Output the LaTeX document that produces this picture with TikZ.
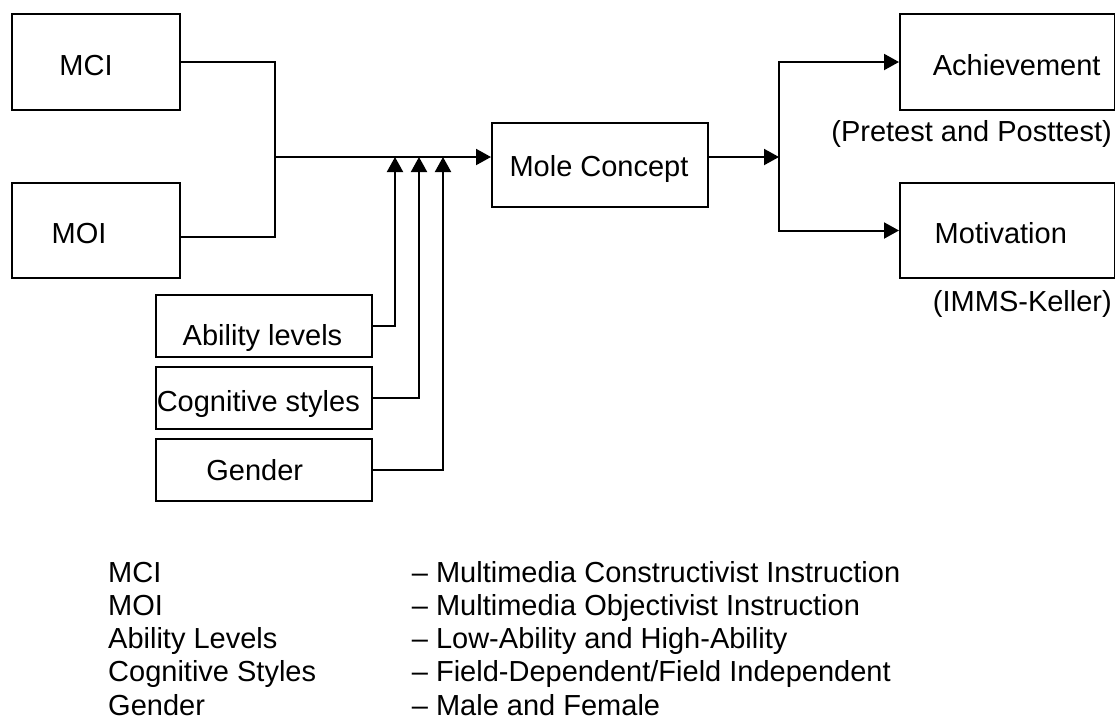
\documentclass[tikz,border=0pt]{standalone}
\usepackage{fontspec}
\setmainfont{Liberation Sans}
\usetikzlibrary{arrows.meta,calc}
\tikzset{
  box/.style={draw, line width=2pt, inner sep=0pt, anchor=north west},
  lbl/.style={inner sep=0pt, anchor=base, font=\fontsize{29}{33}\selectfont},
  leg/.style={inner sep=0pt, anchor=base west, font=\fontsize{29}{33}\selectfont},
  conn/.style={line width=2pt},
  arr/.style={line width=2pt, -{Triangle[length=15pt,width=16pt]}}
}
\begin{document}
\begin{tikzpicture}[x=1pt,y=-1pt]
\useasboundingbox (0,0) rectangle (1115,718);
% boxes
\node[box, minimum width=168pt, minimum height=96pt] (mci) at (11,13) {};
\node[box, minimum width=168pt, minimum height=95pt] (moi) at (11,182) {};
\node[box, minimum width=216pt, minimum height=62pt] (abil) at (155,294) {};
\node[box, minimum width=216pt, minimum height=62pt] (cog) at (155,366) {};
\node[box, minimum width=216pt, minimum height=62pt] (gen) at (155,438) {};
\node[box, minimum width=216pt, minimum height=84pt] (mole) at (491,122) {};
\node[box, minimum width=215pt, minimum height=96pt] (ach) at (899,13) {};
\node[box, minimum width=215pt, minimum height=95pt] (mot) at (899,182) {};
% box texts
\node[lbl] (tmci) at (86,75) {MCI};
\node[lbl] (tmoi) at (79,243.3) {MOI};
\node[lbl] (tabil) at (262.5,345.7) {Ability levels};
\node[lbl] (tcog) at (258.3,411.7) {Cognitive styles};
\node[lbl] (tgen) at (254.7,480.7) {Gender};
\node[lbl] (tmole) at (599,176.7) {Mole Concept};
\node[lbl] (tach) at (1016.7,75) {Achievement};
\node[lbl] (tmot) at (1000.8,243.3) {Motivation};
\node[lbl, anchor=base east] (tpre) at (1112,141.7) {(Pretest and Posttest)};
\node[lbl, anchor=base east] (timms) at (1112,311.7) {(IMMS-Keller)};
% junction coordinates
\coordinate (j) at (275,157);
\coordinate (k) at (779,157);
\coordinate (a1) at (395,157);
\coordinate (a2) at (419,157);
\coordinate (a3) at (443,157);
% connectors
\draw[conn] (mci.east) -| (j);
\draw[conn] ([yshift=-6.5pt]moi.east) -| (j);
\draw[arr] (j) -- (j -| mole.west);
\draw[arr] (abil.east) -| (a1);
\draw[arr] (cog.east) -| (a2);
\draw[arr] (gen.east) -| (a3);
\draw[arr] (k -| mole.east) -- (k);
\draw[arr] (k) |- (ach.west);
\draw[arr] (k) |- (mot.west);
% legend
\node[leg] (l1a) at (108,582) {MCI};
\node[leg] (l2a) at (108,615.3) {MOI};
\node[leg] (l3a) at (108,648.6) {Ability Levels};
\node[leg] (l4a) at (108,681.9) {Cognitive Styles};
\node[leg] (l5a) at (108,715.2) {Gender};
\node[leg] (l1b) at (411.7,582) {– Multimedia Constructivist Instruction};
\node[leg] (l2b) at (411.7,615.3) {– Multimedia Objectivist Instruction};
\node[leg] (l3b) at (411.7,648.6) {– Low-Ability and High-Ability};
\node[leg] (l4b) at (411.7,681.9) {– Field-Dependent/Field Independent};
\node[leg] (l5b) at (411.7,715.2) {– Male and Female};
\end{tikzpicture}
\end{document}
